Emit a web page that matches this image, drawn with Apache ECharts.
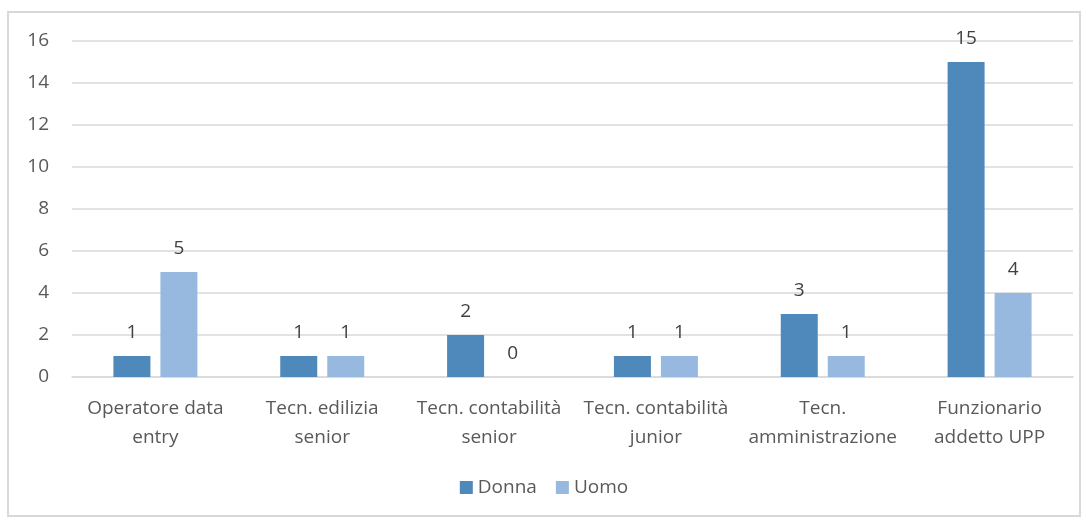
<!DOCTYPE html>
<html>
<head>
<meta charset="utf-8">
<script src="https://cdn.jsdelivr.net/npm/echarts@6/dist/echarts.min.js"></script>
<style>
	html, body { margin: 0; padding: 0; background: #fff; }
	#chart { width: 1088px; height: 520px; }
</style>
</head>
<body>
<div id="chart"></div>
<script>
// categorie (a capo come nel grafico originale)
var categories = [
	'Operatore data\nentry',
	'Tecn. edilizia\nsenior',
	'Tecn. contabilità\nsenior',
	'Tecn. contabilità\njunior',
	'Tecn.\namministrazione',
	'Funzionario\naddetto UPP'
];
var donna = [1, 1, 2, 1, 3, 15];
var uomo = [5, 1, 0, 1, 1, 4];
var yTicks = [0, 2, 4, 6, 8, 10, 12, 14, 16];

var font = '"Open Sans", "Noto Sans", sans-serif';

var myChart = echarts.init(document.getElementById('chart'));
myChart.setOption({
	animation: false,
	textStyle: { fontFamily: font },
	graphic: [{
		type: 'rect',
		shape: { x: 8, y: 12, width: 1072, height: 504 },
		style: { fill: 'none', stroke: '#d9d9d9', lineWidth: 2 }
	}],
	grid: { left: 72, right: 15, top: 41, bottom: 143 },
	legend: {
		data: ['Donna', 'Uomo'],
		bottom: 18,
		left: 'center',
		itemWidth: 13,
		itemHeight: 13,
		itemGap: 19,
		icon: 'rect',
		textStyle: { fontSize: 19, color: '#595959', fontFamily: font }
	},
	xAxis: {
		type: 'category',
		data: categories,
		axisLine: { lineStyle: { color: '#d9d9d9', width: 1.5 } },
		axisTick: { show: false },
		axisLabel: {
			color: '#595959', fontSize: 19, lineHeight: 29,
			margin: 17, interval: 0, fontFamily: font
		}
	},
	yAxis: {
		type: 'value',
		min: yTicks[0],
		max: yTicks[yTicks.length - 1],
		interval: 2,
		axisLine: { show: false },
		axisTick: { show: false },
		splitLine: { lineStyle: { color: '#d9d9d9', width: 1.5 } },
		axisLabel: { color: '#595959', fontSize: 19, margin: 23, fontFamily: font }
	},
	series: [{
		name: 'Donna',
		type: 'bar',
		data: donna,
		barWidth: 37,
		barGap: '27%',
		itemStyle: { color: '#4f88bb' },
		label: { show: true, position: 'top', distance: 14, color: '#404040', fontSize: 19, fontFamily: font }
	}, {
		name: 'Uomo',
		type: 'bar',
		data: uomo,
		barWidth: 37,
		itemStyle: { color: '#97b9e0' },
		label: { show: true, position: 'top', distance: 14, color: '#404040', fontSize: 19, fontFamily: font }
	}]
});
</script>
</body>
</html>
